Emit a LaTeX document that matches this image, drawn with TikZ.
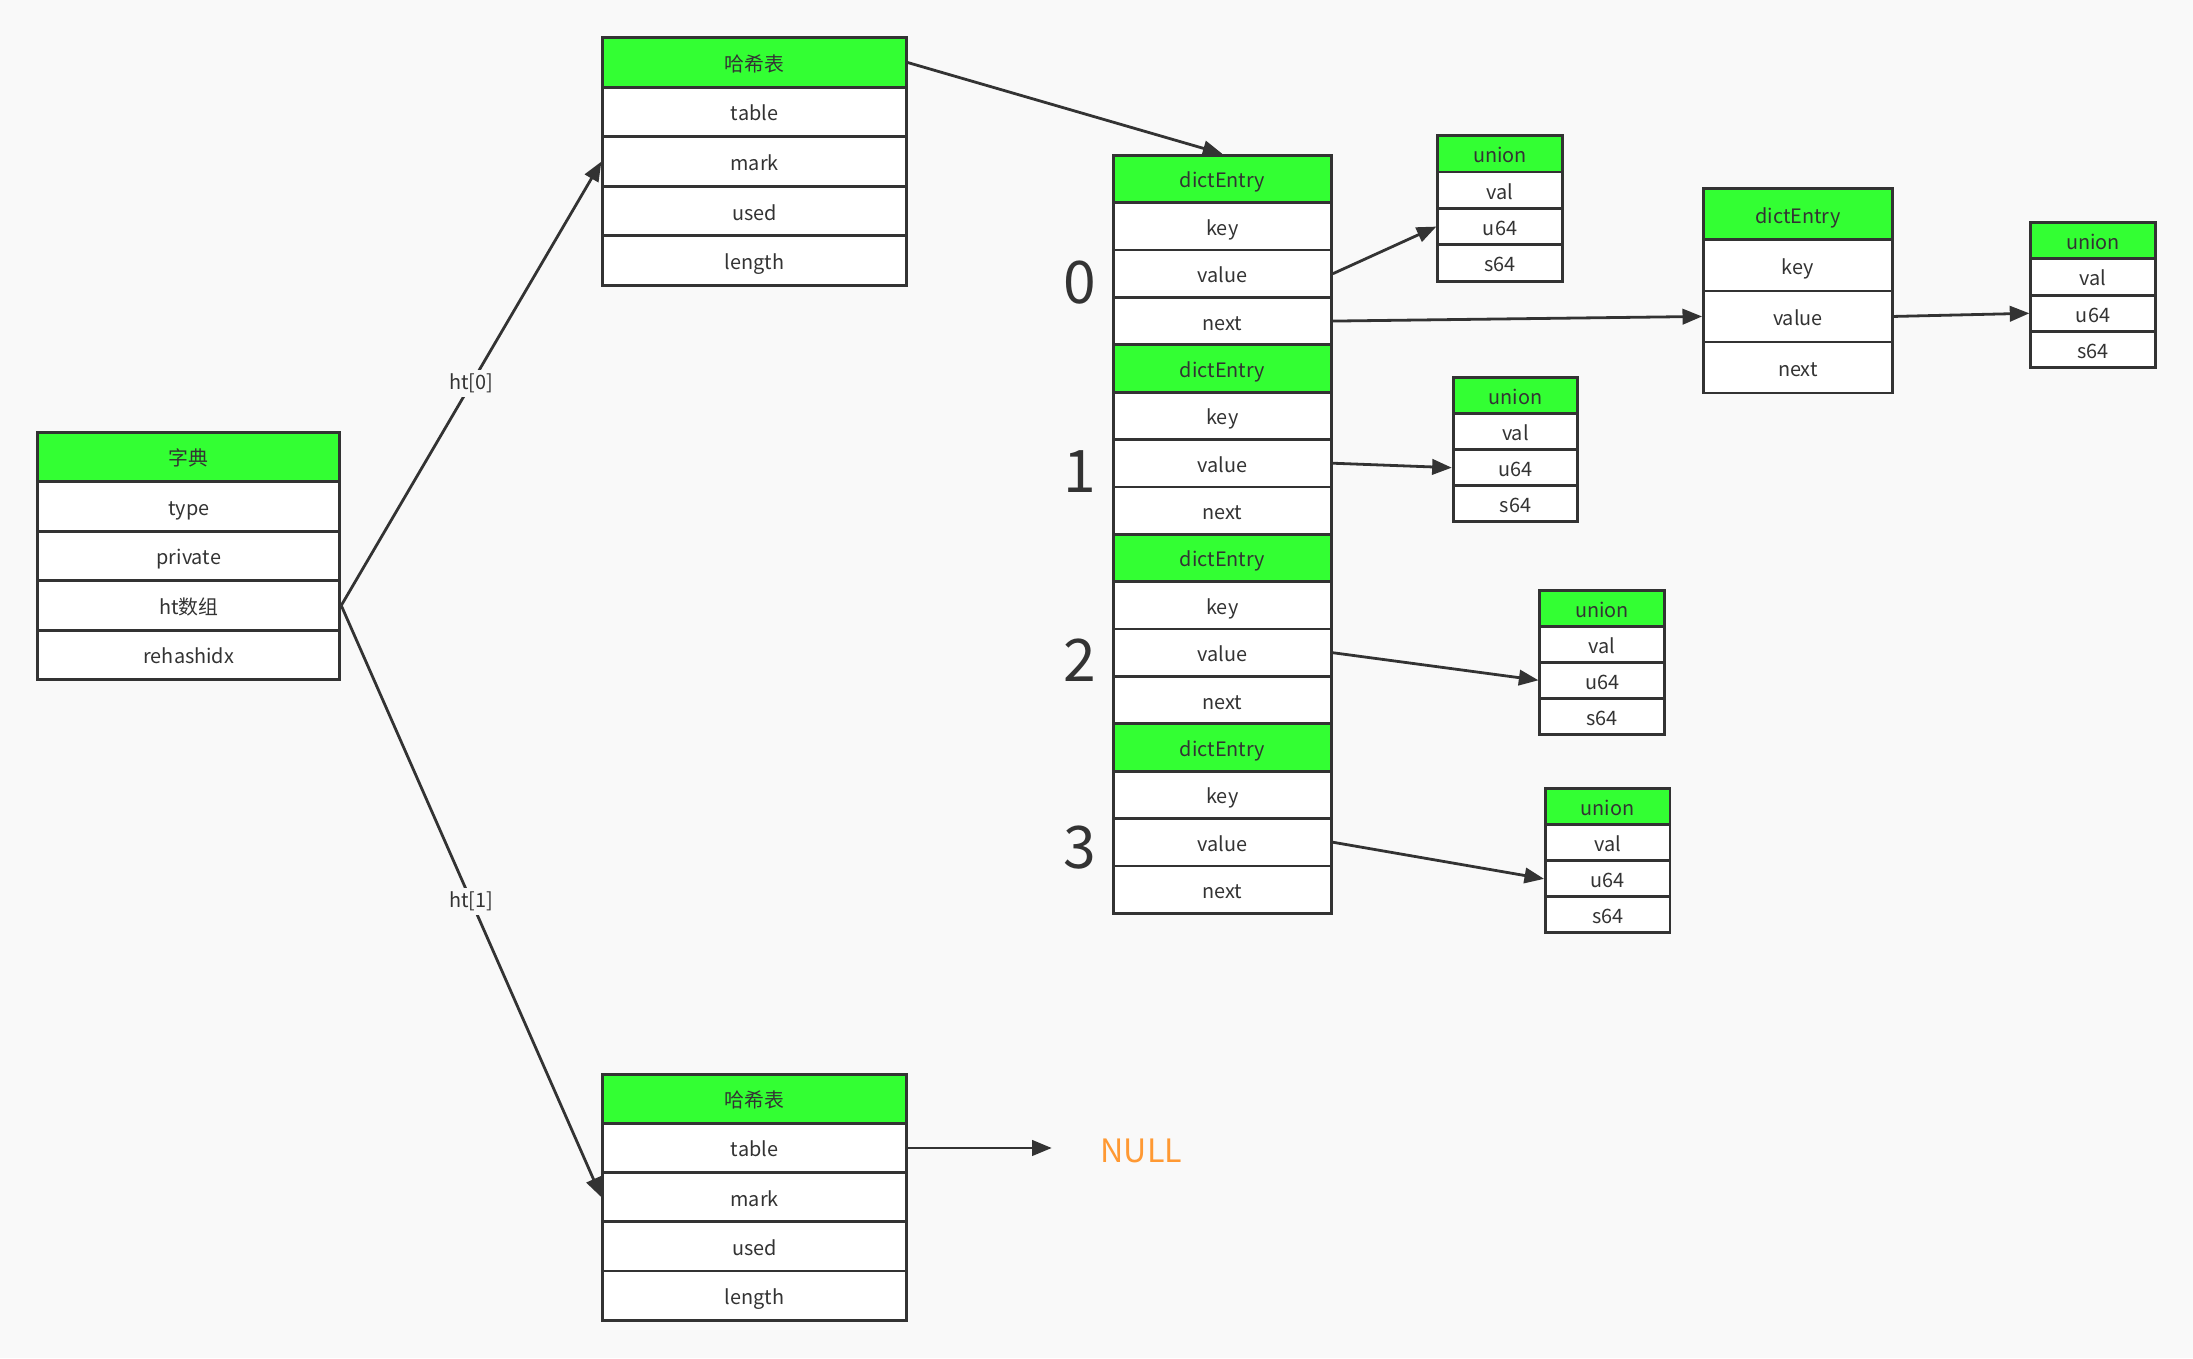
\documentclass[tikz,border=0pt]{standalone}
\usepackage{fontspec}
\setmainfont{Noto Sans CJK SC}
\usetikzlibrary{arrows.meta}
\definecolor{bg}{HTML}{F9F9F9}
\definecolor{hdrgreen}{HTML}{33FF33}
\definecolor{lc}{HTML}{333333}
\definecolor{nullc}{HTML}{FF9933}
\tikzset{
  cellbase/.style={draw=lc, line width=1pt, inner sep=0pt, text=lc,
    text height=6.6pt, text depth=0.2pt,
    font=\fontsize{7.1pt}{9pt}\selectfont},
  hdr/.style={cellbase, fill=hdrgreen},
  cell/.style={cellbase, fill=white},
  arr/.style={draw=lc, line width=1pt, -{Triangle[length=7pt,width=5.5pt]}},
  lbl/.style={fill=bg, inner sep=1.5pt, text=lc, font=\fontsize{7.1pt}{9pt}\selectfont},
  idx/.style={text=lc, font=\fontsize{21pt}{24pt}\selectfont, inner sep=0pt},
}
\newcommand{\mkrec}[7]{%
  \node[hdr, minimum width=#4*0.5pt, minimum height=#5*0.5pt] (#1-0) at (#2+#4/2, #3+#5/2) {#6};
  \foreach \t [count=\i] in {#7} {
    \node[cell, minimum width=#4*0.5pt, minimum height=#5*0.5pt] (#1-\i) at (#2+#4/2, #3+#5/2+\i*#5) {\t};
  }%
}
\begin{document}
\begin{tikzpicture}[x=0.5pt,y=-0.5pt]
\fill[bg] (0,0) rectangle (1568,971);
\useasboundingbox (0,0) rectangle (1568,971);
% dictionary
\mkrec{d}{27}{309}{216}{35.4}{字典}{type,private,ht数组,rehashidx}
% hash tables
\mkrec{ha}{431}{27}{217}{35.4}{哈希表}{table,mark,used,length}
\mkrec{hb}{431}{768}{217}{35.2}{哈希表}{table,mark,used,length}
% dictEntry column
\mkrec{ea}{796}{111}{156}{33.875}{dictEntry}{key,value,next}
\mkrec{eb}{796}{246.5}{156}{33.875}{dictEntry}{key,value,next}
\mkrec{ec}{796}{382}{156}{33.875}{dictEntry}{key,value,next}
\mkrec{ed}{796}{517.5}{156}{33.875}{dictEntry}{key,value,next}
% chained dictEntry
\mkrec{f}{1218}{135}{135}{36.5}{dictEntry}{key,value,next}
% unions
\mkrec{ua}{1028}{97}{89}{26}{union}{val,u64,s64}
\mkrec{ub}{1039}{270}{89}{25.75}{union}{val,u64,s64}
\mkrec{uc}{1101}{422}{89}{25.75}{union}{val,u64,s64}
\mkrec{ud}{1105}{564}{89}{25.75}{union}{val,u64,s64}
\mkrec{ue}{1452}{159}{89}{26}{union}{val,u64,s64}
% indices
\node[idx] (n0) at (772,202) {0};
\node[idx] (n1) at (772,337) {1};
\node[idx] (n2) at (772,472) {2};
\node[idx] (n3) at (772,606) {3};
% NULL
\node[text=nullc, font=\fontsize{11.5pt}{13pt}\selectfont, inner sep=0pt] (null) at (816,823) {NULL};
\coordinate (nullend) at (752,820.8);
% connectors
\draw[arr] (d-3.east) -- (ha-2.west) node[midway, lbl] (l0) {ht[0]};
\draw[arr] (d-3.east) -- (hb-2.west) node[midway, lbl] (l1) {ht[1]};
\draw[arr] (ha-0.east) -- (ea-0.north);
\draw[arr] (ea-2.east) -- (ua-2.west);
\draw[arr] (ea-3.east) -- (f-2.west);
\draw[arr] (f-2.east) -- (ue-2.west);
\draw[arr] (eb-2.east) -- (ub-2.west);
\draw[arr] (ec-2.east) -- (uc-2.west);
\draw[arr] (ed-2.east) -- (ud-2.west);
\draw[arr] (hb-1.east) -- (nullend);
\end{tikzpicture}
\end{document}
